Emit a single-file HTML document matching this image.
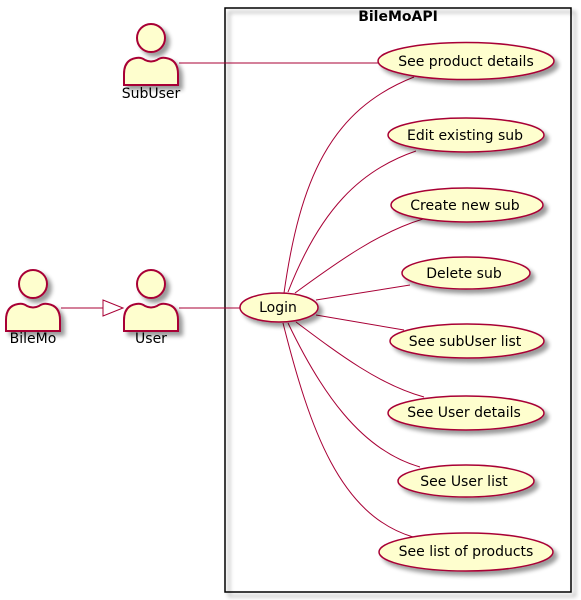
<!DOCTYPE html>
<html><head><meta charset="utf-8"><style>
html,body{margin:0;padding:0;background:#fff;}
svg{display:block;}
text{font-family:"DejaVu Sans","Liberation Sans",sans-serif;font-size:14px;fill:#000;}
</style></head><body>
<svg width="581" height="600" viewBox="0 0 581 600" xmlns="http://www.w3.org/2000/svg">
<defs>
<filter id="sh" x="-20%" y="-20%" width="150%" height="160%">
<feGaussianBlur in="SourceAlpha" stdDeviation="2"/><feOffset dx="4" dy="4"/>
<feComponentTransfer><feFuncA type="linear" slope="0.4"/></feComponentTransfer>
<feMerge><feMergeNode/><feMergeNode in="SourceGraphic"/></feMerge></filter>
<g id="actor">
<circle cx="0" cy="0" r="14" fill="#FEFECE" stroke="#A80036" stroke-width="2"/>
<path d="M-27,47 L-27,36 Q-27,22 -15,20 Q-10,19 -6,22 Q0,25 6,22 Q10,19 15,20 Q27,22 27,36 L27,47 Z" fill="#FEFECE" stroke="#A80036" stroke-width="2"/>
</g>
</defs>
<rect x="225" y="8" width="346" height="584" fill="none" stroke="#000" stroke-width="1.5" filter="url(#sh)"/>
<text x="398" y="21" text-anchor="middle" style="font-weight:bold">BileMoAPI</text>

<g stroke="#A80036" stroke-width="1" fill="none">
<line x1="179" y1="63" x2="379" y2="63"/>
<line x1="179" y1="308" x2="241" y2="308"/>
<line x1="61" y1="308" x2="103" y2="308"/>
<path d="M284,293 C300,180 330,110 414,77"/>
<path d="M288,292 C320,210 360,170 416,151"/>
<path d="M295,293 C340,260 380,232 423,219"/>
<path d="M316,300 L410,285"/>
<path d="M316,315 L404,330"/>
<path d="M296,322 C340,355 380,385 424,397"/>
<path d="M288,323 C320,390 360,450 420,467"/>
<path d="M283,323 C310,430 340,515 413,537"/>
</g>
<polygon points="103,300 103,316 123,308" fill="#fff" stroke="#A80036" stroke-width="1"/>

<g filter="url(#sh)">
<use href="#actor" x="151" y="38"/>
<use href="#actor" x="151" y="284"/>
<use href="#actor" x="33" y="284"/>
</g>
<text x="151" y="98" text-anchor="middle">SubUser</text>
<text x="151" y="343" text-anchor="middle">User</text>
<text x="33" y="343" text-anchor="middle">BileMo</text>

<g fill="#FEFECE" stroke="#A80036" stroke-width="1.5" filter="url(#sh)">
<ellipse cx="279" cy="307.5" rx="39" ry="14.5"/>
<ellipse cx="466" cy="61" rx="88" ry="18.5"/>
<ellipse cx="466" cy="135" rx="78" ry="17"/>
<ellipse cx="467" cy="205" rx="76" ry="17"/>
<ellipse cx="466" cy="273" rx="64" ry="16"/>
<ellipse cx="467" cy="341" rx="77" ry="17"/>
<ellipse cx="466" cy="413" rx="78" ry="17"/>
<ellipse cx="466" cy="481" rx="68" ry="16"/>
<ellipse cx="466" cy="552" rx="87" ry="19"/>
</g>
<g text-anchor="middle">
<text x="278" y="312">Login</text>
<text x="466" y="66">See product details</text>
<text x="465" y="140">Edit existing sub</text>
<text x="465" y="210">Create new sub</text>
<text x="464" y="278">Delete sub</text>
<text x="465" y="346">See subUser list</text>
<text x="464" y="417">See User details</text>
<text x="464" y="486">See User list</text>
<text x="466" y="556">See list of products</text>
</g>
</svg>
</body></html>
